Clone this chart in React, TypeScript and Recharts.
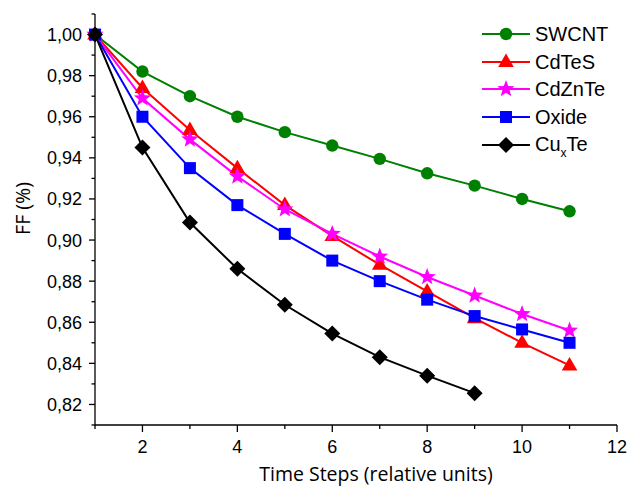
import React from "react";
import { LineChart, Line, XAxis, YAxis, Legend } from "recharts";

// time steps (relative units)
const steps = [1, 2, 3, 4, 5, 6, 7, 8, 9, 10, 11];

// FF values per back contact material
const swcnt = [1.0, 0.982, 0.97, 0.96, 0.9525, 0.946, 0.9395, 0.9325, 0.9265, 0.92, 0.914];
const cdtes = [1.0, 0.974, 0.9535, 0.935, 0.917, 0.902, 0.888, 0.875, 0.862, 0.85, 0.839];
const cdznte = [1.0, 0.969, 0.949, 0.931, 0.915, 0.903, 0.892, 0.882, 0.873, 0.864, 0.856];
const oxide = [1.0, 0.96, 0.935, 0.917, 0.903, 0.89, 0.88, 0.871, 0.863, 0.8565, 0.85];
const cuxte = [1.0, 0.945, 0.9085, 0.886, 0.8685, 0.8545, 0.843, 0.834, 0.8255];

const xTicks = [1, 2, 3, 4, 5, 6, 7, 8, 9, 10, 11, 12];
const yTicks = [0.81, 0.82, 0.83, 0.84, 0.85, 0.86, 0.87, 0.88, 0.89, 0.9, 0.91, 0.92, 0.93, 0.94, 0.95, 0.96, 0.97, 0.98, 0.99, 1.0, 1.01];

const data = steps.map((s, i) => ({
  step: s,
  swcnt: swcnt[i],
  cdtes: cdtes[i],
  cdznte: cdznte[i],
  oxide: oxide[i],
  cuxte: cuxte[i],
}));

type Shape = "circle" | "triangle" | "star" | "square" | "diamond";

const series: { key: string; name: string; color: string; shape: Shape }[] = [
  { key: "swcnt", name: "SWCNT", color: "#008000", shape: "circle" },
  { key: "cdtes", name: "CdTeS", color: "#FF0000", shape: "triangle" },
  { key: "cdznte", name: "CdZnTe", color: "#FF00FF", shape: "star" },
  { key: "oxide", name: "Oxide", color: "#0000FF", shape: "square" },
  { key: "cuxte", name: "CuxTe", color: "#000000", shape: "diamond" },
];

const tickFont = "'Liberation Sans', Arial, sans-serif";
const titleFont = "'Open Sans', sans-serif";

function starPoints(cx: number, cy: number, R: number, r: number) {
  const pts: string[] = [];
  for (let i = 0; i < 10; i++) {
    const a = -Math.PI / 2 + (i * Math.PI) / 5;
    const rad = i % 2 === 0 ? R : r;
    pts.push(`${cx + rad * Math.cos(a)},${cy + rad * Math.sin(a)}`);
  }
  return pts.join(" ");
}

function Marker({ shape, cx, cy, color }: { shape: Shape; cx: number; cy: number; color: string }) {
  switch (shape) {
    case "circle":
      return <circle cx={cx} cy={cy} r={6.2} fill={color} />;
    case "triangle":
      return <polygon points={`${cx},${cy - 8.5} ${cx - 7.8},${cy + 5} ${cx + 7.8},${cy + 5}`} fill={color} />;
    case "star":
      return <polygon points={starPoints(cx, cy, 9, 3.8)} fill={color} />;
    case "square":
      return <rect x={cx - 6} y={cy - 6} width={12} height={12} fill={color} />;
    default:
      return <polygon points={`${cx},${cy - 8} ${cx + 8},${cy} ${cx},${cy + 8} ${cx - 8},${cy}`} fill={color} />;
  }
}

const makeDot = (shape: Shape, color: string) => (props: any) => {
  const { cx, cy, index, value } = props;
  if (cx == null || cy == null || value == null) return <g key={index} />;
  return (
    <g key={index}>
      <Marker shape={shape} cx={cx} cy={cy} color={color} />
    </g>
  );
};

const XTick = (props: any) => {
  const { x, y, payload } = props;
  const v = payload.value as number;
  const major = v % 2 === 0;
  return (
    <g>
      <line x1={x} y1={y} x2={x} y2={y + (major ? 7 : 4)} stroke="#000" strokeWidth={1.3} />
      {major && (
        <text x={x} y={y + 28} textAnchor="middle" fontSize={18} fontFamily={tickFont} fill="#000">
          {v}
        </text>
      )}
    </g>
  );
};

const YTick = (props: any) => {
  const { x, y, payload } = props;
  const v = payload.value as number;
  const major = Math.round(v * 100) % 2 === 0;
  return (
    <g>
      <line x1={x} y1={y} x2={x - (major ? 6 : 3.5)} y2={y} stroke="#000" strokeWidth={1.3} />
      {major && (
        <text x={x - 13} y={y + 6.5} textAnchor="end" fontSize={18} fontFamily={tickFont} fill="#000">
          {v.toFixed(2).replace(".", ",")}
        </text>
      )}
    </g>
  );
};

const renderLegend = () => (
  <div style={{ fontFamily: tickFont, fontSize: 20, color: "#000" }}>
    {series.map((s) => (
      <div key={s.key} style={{ display: "flex", alignItems: "center", height: 27.8 }}>
        <svg width={48} height={24} style={{ display: "block" }}>
          <line x1={0} y1={12} x2={48} y2={12} stroke={s.color} strokeWidth={2} />
          <Marker shape={s.shape} cx={24} cy={12} color={s.color} />
        </svg>
        <span style={{ marginLeft: 5, lineHeight: "24px" }}>
          {s.key === "cuxte" ? (
            <>
              Cu<span style={{ fontSize: 12, position: "relative", top: 6 }}>x</span>Te
            </>
          ) : (
            s.name
          )}
        </span>
      </div>
    ))}
  </div>
);

export default function App() {
  return (
    <div style={{ position: "absolute", left: 0, top: 0, background: "#fff" }}>
      <LineChart width={629} height={487} data={data} margin={{ top: 14, right: 12, bottom: 0, left: 0 }}>
        <XAxis
          dataKey="step"
          type="number"
          domain={[1, 12]}
          ticks={xTicks}
          interval={0}
          height={62}
          tickSize={0}
          tickMargin={0}
          tickLine={false}
          tick={<XTick />}
          axisLine={{ stroke: "#000", strokeWidth: 1.3 }}
          label={{
            value: "Time Steps (relative units)",
            content: (p: any) => {
              const vb = p.viewBox;
              return (
                <text
                  x={vb.x + vb.width / 2 + 20}
                  y={vb.y + 56}
                  textAnchor="middle"
                  fontSize={19.5}
                  fontFamily={titleFont}
                  fill="#000"
                >
                  Time Steps (relative units)
                </text>
              );
            },
          }}
        />
        <XAxis xAxisId="top" orientation="top" type="number" domain={[1, 12]} height={0} tick={false} tickLine={false} axisLine={{ stroke: "#000", strokeWidth: 1.3 }} />
        <YAxis
          type="number"
          domain={[0.81, 1.01]}
          ticks={yTicks}
          interval={0}
          width={95}
          tickSize={0}
          tickMargin={0}
          tickLine={false}
          tick={<YTick />}
          axisLine={{ stroke: "#000", strokeWidth: 1.3 }}
          label={{
            value: "FF (%)",
            content: (p: any) => {
              const vb = p.viewBox;
              const cy = vb.y + vb.height / 2 - 11;
              return (
                <text
                  x={30}
                  y={cy}
                  transform={`rotate(-90 30 ${cy})`}
                  textAnchor="middle"
                  fontSize={19.5}
                  fontFamily={titleFont}
                  fill="#000"
                >
                  FF (%)
                </text>
              );
            },
          }}
        />
        <YAxis yAxisId="right" orientation="right" type="number" domain={[0.81, 1.01]} width={0} tick={false} tickLine={false} axisLine={{ stroke: "#000", strokeWidth: 1.3 }} />
        <Legend
          layout="vertical"
          align="center"
          verticalAlign="middle"
          content={renderLegend}
          wrapperStyle={{ top: 20, left: 482, width: 146 }}
        />
        {series.map((s) => (
          <Line
            key={s.key}
            type="linear"
            dataKey={s.key}
            name={s.name}
            stroke={s.color}
            strokeWidth={2}
            dot={makeDot(s.shape, s.color)}
            activeDot={false}
            isAnimationActive={false}
          />
        ))}
      </LineChart>
    </div>
  );
}
